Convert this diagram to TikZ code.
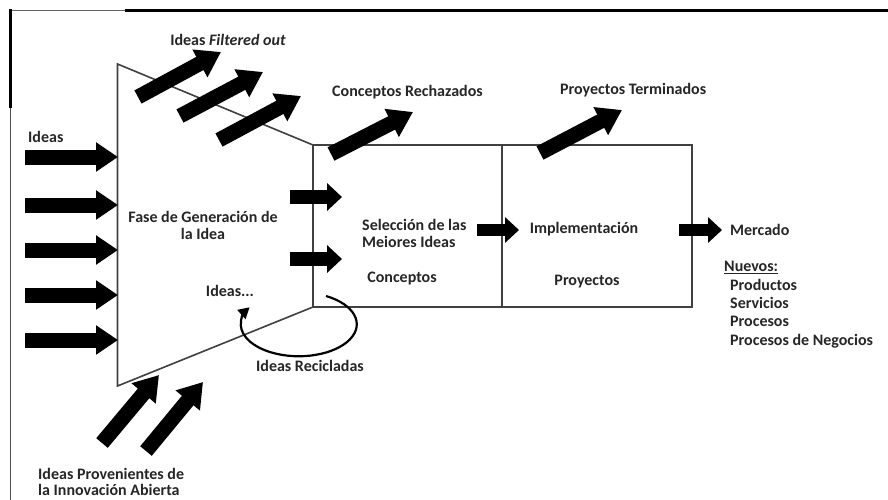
\documentclass[tikz,border=0pt]{standalone}
\usepackage{fontspec}
\setmainfont{Carlito}
\usetikzlibrary{arrows.meta}
\begin{document}
\begin{tikzpicture}[x=1pt,y=-1pt,
  lbl/.style={font=\fontsize{16}{17}\selectfont\bfseries, inner sep=0pt, text height=10pt, text depth=3pt, text=black!85},
  lbltwo/.style={font=\fontsize{16}{17}\selectfont\bfseries, inner sep=0pt, text=black!85},
  outline/.style={line width=1.6pt, draw=black!75},
  fat/.style={line width=15pt, -{Triangle[length=22pt,width=28pt]}},
  fatdiag/.style={line width=15pt, -{Triangle[length=24pt,width=30pt]}},
  small/.style={line width=12pt, -{Triangle[length=14pt,width=25pt]}},
  loopline/.style={line width=2.2pt, -{Triangle[length=11pt,width=12pt]}}
]
\useasboundingbox (0,0) rectangle (888,499);
\clip (0,0) rectangle (888,499);
\fill[white] (0,0) rectangle (888,499);

% frame
\draw[line width=1pt, draw=black!60] (9,10.5) -- (125,10.5);
\draw[line width=2.6pt] (125,10.5) -- (890,10.5);
\draw[line width=3pt] (10.5,9) -- (10.5,108);
\draw[line width=1.8pt, draw=black!70] (10.5,108) -- (10.5,500);

% funnel and boxes
\coordinate (ftop) at (117.5,64);
\coordinate (fbot) at (117.5,386);
\coordinate (btl) at (313,145);
\coordinate (bbl) at (313,307);
\coordinate (btr) at (692,145);
\coordinate (bbr) at (692,307);
\coordinate (dtop) at (502,145);
\coordinate (dbot) at (502,307);
\draw[outline] (btl) -- (ftop) -- (fbot) -- (bbl);
\draw[outline] (btl) rectangle (bbr);
\draw[outline] (dtop) -- (dbot);

% input arrows
\foreach \yy [count=\i] in {157,205,250,295,340}{
  \coordinate (in\i a) at (25,\yy);
  \coordinate (in\i b) at (118,\yy);
  \draw[fat] (in\i a) -- (in\i b);
}

% filtered out arrows
\coordinate (f1a) at (138,97);  \coordinate (f1b) at (221,52);
\coordinate (f2a) at (180,116); \coordinate (f2b) at (263,72);
\coordinate (f3a) at (219,140); \coordinate (f3b) at (301,96);
\draw[fatdiag] (f1a) -- (f1b);
\draw[fatdiag] (f2a) -- (f2b);
\draw[fatdiag] (f3a) -- (f3b);

% rejected / finished
\coordinate (r1a) at (331,154); \coordinate (r1b) at (413,112);
\coordinate (t1a) at (540,153); \coordinate (t1b) at (622,110);
\draw[fatdiag] (r1a) -- (r1b);
\draw[fatdiag] (t1a) -- (t1b);

% open innovation arrows
\coordinate (o1a) at (102,443); \coordinate (o1b) at (159,375);
\coordinate (o2a) at (146,451); \coordinate (o2b) at (203,382);
\draw[fatdiag] (o1a) -- (o1b);
\draw[fatdiag] (o2a) -- (o2b);

% arrows into selection box
\coordinate (s1a) at (290,197); \coordinate (s1b) at (342,197);
\coordinate (s2a) at (290,259); \coordinate (s2b) at (342,259);
\draw[small, line width=14pt, -{Triangle[length=15pt,width=27pt]}] (s1a) -- (s1b);
\draw[small, line width=14pt, -{Triangle[length=15pt,width=27pt]}] (s2a) -- (s2b);

% selection -> implementation, implementation -> market
\coordinate (m1a) at (477,230); \coordinate (m1b) at (519,230);
\coordinate (m2a) at (679,230); \coordinate (m2b) at (722,230);
\draw[small] (m1a) -- (m1b);
\draw[small] (m2a) -- (m2b);

% recycle loop
\coordinate (rc) at (326,296);
\draw[loopline] (rc) arc[start angle=-62, end angle=212, x radius=58, y radius=32];

% labels
\node[lbl, anchor=west] (lIdeas) at (28,139) {Ideas};
\node[lbl] (lFilt) at (228,42) {Ideas \textit{Filtered out}};
\node[lbl, anchor=west] (lRech) at (332,93) {Conceptos Rechazados};
\node[lbl, anchor=west] (lTerm) at (560,91) {Proyectos Terminados};
\node[lbltwo, align=center] (lFase) at (203,225) {Fase de Generación de\\la Idea};
\node[lbl] (lDots) at (230,293) {Ideas...};
\node[lbltwo, align=left, anchor=west] (lSel) at (362,233) {Selección de las\\Meiores Ideas};
\node[lbl] (lConc) at (402,279) {Conceptos};
\node[lbl] (lImpl) at (584,230) {Implementación};
\node[lbl] (lProy) at (587,282) {Proyectos};
\node[lbl, anchor=west] (lMerc) at (730,232) {Mercado};
\node[lbl, anchor=west] (lNuev) at (724,268) {\underline{Nuevos:}};
\node[lbl, anchor=west] (lP1) at (730,287) {Productos};
\node[lbl, anchor=west] (lP2) at (730,305) {Servicios};
\node[lbl, anchor=west] (lP3) at (730,323) {Procesos};
\node[lbl, anchor=west] (lP4) at (730,342) {Procesos de Negocios};
\node[lbl] (lRecic) at (310,368) {Ideas Recicladas};
\node[lbl, anchor=west] (lProv1) at (38,476) {Ideas Provenientes de};
\node[lbl, anchor=west] (lProv2) at (38,492) {la Innovación Abierta};
\end{tikzpicture}
\end{document}
